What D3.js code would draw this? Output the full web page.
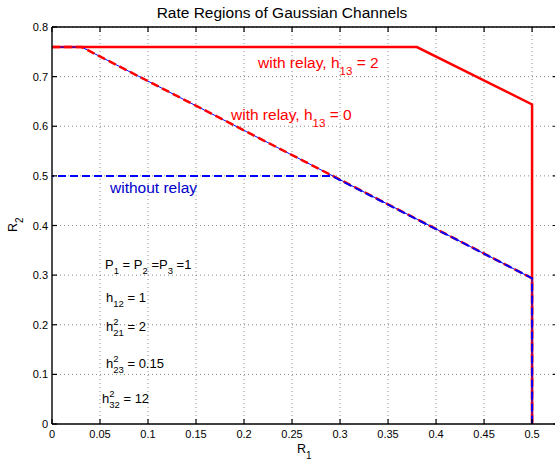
<!DOCTYPE html>
<html>
<head>
<meta charset="utf-8">
<script src="https://cdn.jsdelivr.net/npm/d3@7"></script>
<style>
  body { margin: 0; background: #fff; }
  text { font-family: "Liberation Sans", Arial, sans-serif; white-space: pre; }
</style>
</head>
<body>
<svg></svg>
<script>
// values
const xTicks = [0, 0.05, 0.1, 0.15, 0.2, 0.25, 0.3, 0.35, 0.4, 0.45, 0.5];
const yTicks = [0, 0.1, 0.2, 0.3, 0.4, 0.5, 0.6, 0.7, 0.8];

// rate region boundaries [R1, R2]
const relayH13_2 = [[0, 0.7595], [0.380, 0.7595], [0.5, 0.644], [0.5, 0]];
const relayH13_0 = [[0, 0.7595], [0.031, 0.7595], [0.5, 0.2937], [0.5, 0]];
const noRelay    = [[0, 0.5], [0.2913, 0.5], [0.5, 0.2937], [0.5, 0]];

const W = 555, H = 461;
const svg = d3.select('svg')
    .attr('width', W)
    .attr('height', H);

const x = d3.scaleLinear().domain([0, 0.527]).range([52, 558]);
const y = d3.scaleLinear().domain([0, 0.8]).range([424, 27]);

const x0 = x.range()[0], x1 = x.range()[1];
const y0 = y.range()[0], y1 = y.range()[1];

// grid
svg.append('g').selectAll('line')
    .data(xTicks.slice(1))
    .join('line')
    .attr('x1', d => x(d)).attr('x2', d => x(d))
    .attr('y1', y0).attr('y2', y1)
    .style('stroke', '#8a8a8a')
    .style('stroke-width', 1)
    .style('stroke-dasharray', '1,3');

svg.append('g').selectAll('line')
    .data(yTicks.slice(1))
    .join('line')
    .attr('x1', x0).attr('x2', x1)
    .attr('y1', d => y(d)).attr('y2', d => y(d))
    .style('stroke', '#8a8a8a')
    .style('stroke-width', 1)
    .style('stroke-dasharray', '1,3');

// curves
const line = d3.line().x(d => x(d[0])).y(d => y(d[1]));

svg.append('path')
    .attr('d', line(relayH13_2))
    .attr('fill', 'none')
    .style('stroke', '#ff0000')
    .style('stroke-width', 2.5);

svg.append('path')
    .attr('d', line(relayH13_0))
    .attr('fill', 'none')
    .style('stroke', '#0000ff')
    .style('stroke-width', 1);

svg.append('path')
    .attr('d', line(relayH13_0))
    .attr('fill', 'none')
    .style('stroke', '#ff0000')
    .style('stroke-width', 2.5)
    .style('stroke-dasharray', '8,4');

svg.append('path')
    .attr('d', line(noRelay))
    .attr('fill', 'none')
    .style('stroke', '#0000ff')
    .style('stroke-width', 2)
    .style('stroke-dasharray', '8,4')
    .style('stroke-dashoffset', 6);

// axes box
const axisColor = '#000';
svg.append('line').attr('x1', x0).attr('x2', x0).attr('y1', y0).attr('y2', y1)
    .style('stroke', axisColor).style('stroke-width', 1.4);
svg.append('line').attr('x1', x0).attr('x2', x1).attr('y1', y0).attr('y2', y0)
    .style('stroke', axisColor).style('stroke-width', 1.4);
svg.append('line').attr('x1', x0).attr('x2', x1).attr('y1', y1).attr('y2', y1)
    .style('stroke', axisColor).style('stroke-width', 1.4);
svg.append('line').attr('x1', x1).attr('x2', x1).attr('y1', y0).attr('y2', y1)
    .style('stroke', axisColor).style('stroke-width', 1.4);

// inward ticks on all sides
const tk = 5;
svg.append('g').selectAll('line').data(xTicks).join('line')
    .attr('x1', d => x(d)).attr('x2', d => x(d))
    .attr('y1', y0).attr('y2', y0 - tk)
    .style('stroke', axisColor).style('stroke-width', 1.2);
svg.append('g').selectAll('line').data(xTicks).join('line')
    .attr('x1', d => x(d)).attr('x2', d => x(d))
    .attr('y1', y1).attr('y2', y1 + tk)
    .style('stroke', axisColor).style('stroke-width', 1.2);
svg.append('g').selectAll('line').data(yTicks).join('line')
    .attr('x1', x0).attr('x2', x0 + tk)
    .attr('y1', d => y(d)).attr('y2', d => y(d))
    .style('stroke', axisColor).style('stroke-width', 1.2);
svg.append('g').selectAll('line').data(yTicks).join('line')
    .attr('x1', x1).attr('x2', x1 - tk)
    .attr('y1', d => y(d)).attr('y2', d => y(d))
    .style('stroke', axisColor).style('stroke-width', 1.2);

// tick labels
svg.append('g').selectAll('text').data(xTicks).join('text')
    .text(d => d3.format('~g')(d))
    .attr('x', d => x(d))
    .attr('y', 438)
    .attr('text-anchor', 'middle')
    .attr('font-size', 11)
    .attr('fill', '#000');

svg.append('g').selectAll('text').data(yTicks).join('text')
    .text(d => d3.format('~g')(d))
    .attr('x', 48)
    .attr('y', d => y(d) + 4)
    .attr('text-anchor', 'end')
    .attr('font-size', 11)
    .attr('fill', '#000');

// title
svg.append('text')
    .text('Rate Regions of Gaussian Channels')
    .attr('x', 282)
    .attr('y', 18)
    .attr('text-anchor', 'middle')
    .attr('font-size', 15.5)
    .attr('fill', '#000');

// text with sub/superscripts, laid out left to right
function rich(px, py, parts, size, color, subSize, subDy, supDy) {
    const g = svg.append('g');
    let cx = px, supW = 0;
    parts.forEach(p => {
        const isSmall = p.sub || p.sup;
        const t = g.append('text')
            .text(p.t)
            .attr('x', cx)
            .attr('y', py + (p.sub ? subDy : p.sup ? -supDy : 0))
            .attr('font-size', isSmall ? subSize : size)
            .attr('fill', color);
        const w = t.node().getComputedTextLength();
        if (p.sup) { supW = w; return; }
        cx += Math.max(w, supW);
        supW = 0;
    });
    return g;
}

rich(258, 68, [{t: 'with relay, h'}, {t: '13', sub: true}, {t: ' = 2'}], 15.5, '#ff0000', 11.5, 7, 6);
rich(231, 120, [{t: 'with relay, h'}, {t: '13', sub: true}, {t: ' = 0'}], 15.5, '#ff0000', 11.5, 7, 6);
rich(110, 193, [{t: 'without relay'}], 15.5, '#0000cc', 11.5, 7, 6);

const ann = (px, py, parts) => rich(px, py, parts, 13, '#000', 9.5, 5, 6);
ann(105, 269, [{t: 'P'}, {t: '1', sub: true}, {t: ' = P'}, {t: '2', sub: true}, {t: ' =P'}, {t: '3', sub: true}, {t: ' =1'}]);
ann(106, 302, [{t: 'h'}, {t: '12', sub: true}, {t: ' = 1'}]);
ann(106, 331, [{t: 'h'}, {t: '2', sup: true}, {t: '21', sub: true}, {t: ' = 2'}]);
ann(106, 368, [{t: 'h'}, {t: '2', sup: true}, {t: '23', sub: true}, {t: ' = 0.15'}]);
ann(102, 403, [{t: 'h'}, {t: '2', sup: true}, {t: '32', sub: true}, {t: ' = 12'}]);

// axis labels
rich(297, 453, [{t: 'R'}, {t: '1', sub: true}], 12.5, '#000', 10, 6, 6);
const yl = rich(0, 0, [{t: 'R'}, {t: '2', sub: true}], 12.5, '#000', 10, 6, 6);
yl.attr('transform', 'translate(17,232) rotate(-90)');
</script>
</body>
</html>
